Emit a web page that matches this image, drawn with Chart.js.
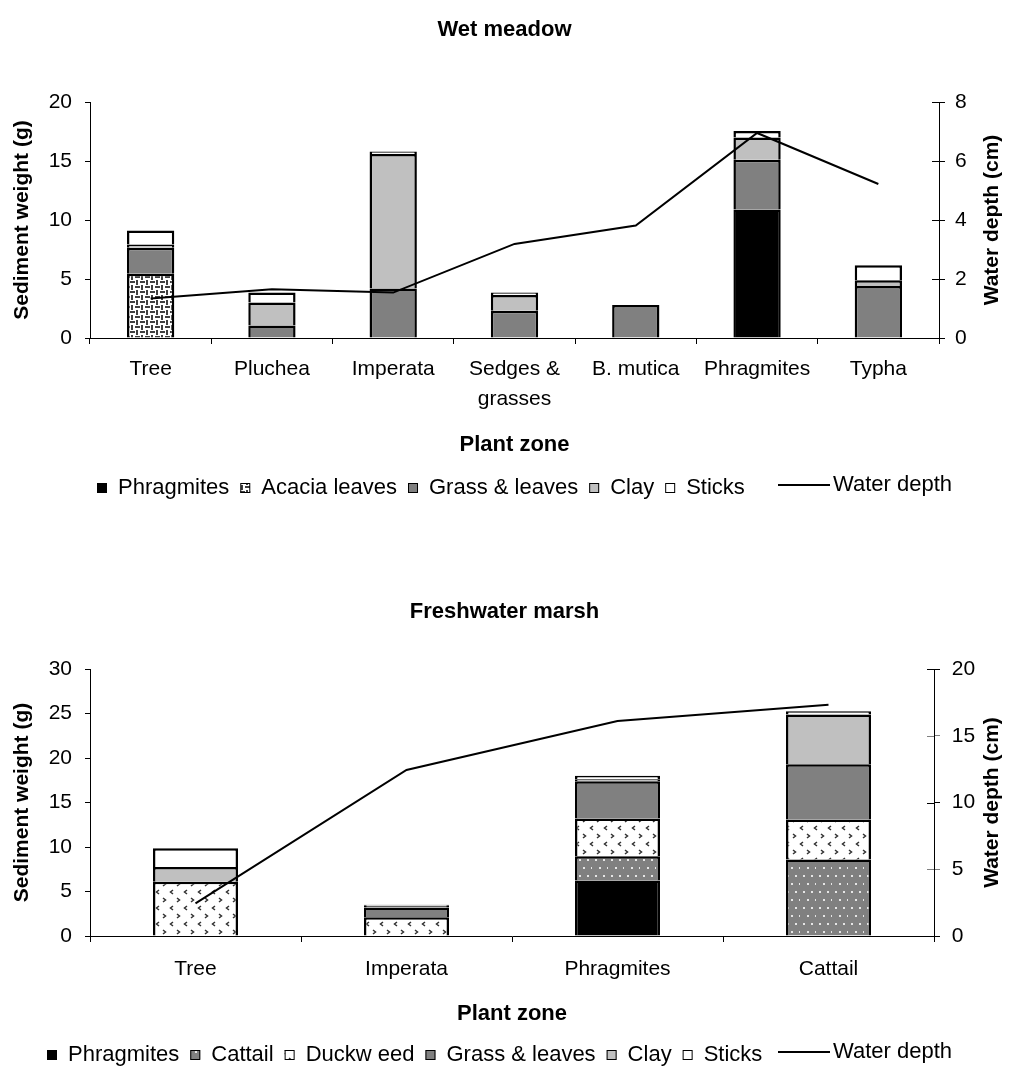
<!DOCTYPE html>
<html>
<head>
<meta charset="utf-8">
<script src="https://cdn.jsdelivr.net/npm/chart.js@4.4.1/dist/chart.umd.min.js"></script>
<style>
  html, body { margin: 0; padding: 0; background: #fff; }
  body { width: 1009px; height: 1075px; position: relative; overflow: hidden; }
  canvas { position: absolute; left: 0; }
  #wet { top: 0; }
  #marsh { top: 520px; }
</style>
</head>
<body>
<canvas id="wet" width="1009" height="520"></canvas>
<canvas id="marsh" width="1009" height="555"></canvas>
<script>
// ---- Wet meadow ----
const wetZones = ["Tree", "Pluchea", "Imperata", ["Sedges &", "grasses"], "B. mutica", "Phragmites", "Typha"];
const wetPhragmites = [0, 0, 0, 0, 0, 10.9, 0];
const wetAcacia = [5.45, 0, 0, 0, 0, 0, 0];
const wetGrass = [2.2, 1.05, 4.2, 2.3, 2.8, 4.2, 4.4];
const wetClay = [0.28, 1.95, 11.4, 1.35, 0, 1.9, 0.5];
const wetSticks = [1.18, 0.85, 0.2, 0.2, 0, 0.55, 1.27];
const wetDepth = [1.34, 1.65, 1.54, 3.19, 3.81, 6.95, 5.22];
const wetWeightTicks = [0, 20, 5];   // min, max, step
const wetDepthTicks = [0, 8, 2];

// ---- Freshwater marsh ----
const marshZones = ["Tree", "Imperata", "Phragmites", "Cattail"];
const marshPhragmites = [0, 0, 6.25, 0];
const marshCattail = [0, 0, 2.7, 8.6];
const marshDuckweed = [6.1, 2.1, 4.25, 4.5];
const marshGrass = [0, 1.1, 4.2, 6.2];
const marshClay = [1.65, 0.2, 0.2, 5.6];
const marshSticks = [2.1, 0.1, 0.4, 0.35];
const marshDepth = [2.44, 12.44, 16.1, 17.33];
const marshWeightTicks = [0, 30, 5];
const marshDepthTicks = [0, 20, 5];

const FONT = "'Liberation Sans', Arial, Helvetica, sans-serif";
Chart.defaults.font.family = FONT;
Chart.defaults.color = '#000';

function tile(w, h, paint) {
  const c = document.createElement('canvas');
  c.width = w; c.height = h;
  const g = c.getContext('2d');
  paint(g);
  return g.createPattern(c, 'repeat');
}
const weave = tile(10, 10, g => {
  g.fillStyle = '#fff'; g.fillRect(0, 0, 10, 10);
  g.fillStyle = '#404040';
  g.fillRect(0, 1, 5, 2); g.fillRect(6, 0, 2, 5);
  g.fillRect(1, 5, 2, 5); g.fillRect(5, 6, 5, 2);
});
const chevrons = tile(14, 16, g => {
  g.fillStyle = '#fff'; g.fillRect(0, 0, 14, 16);
  g.strokeStyle = '#333'; g.lineWidth = 1.5;
  g.beginPath(); g.moveTo(5, 2); g.lineTo(2.5, 4); g.lineTo(5, 6); g.stroke();
  g.beginPath(); g.moveTo(9, 10); g.lineTo(11.5, 12); g.lineTo(9, 14); g.stroke();
});
const dots = tile(16, 16, g => {
  g.fillStyle = '#808080'; g.fillRect(0, 0, 16, 16);
  g.fillStyle = '#e6e6e6';
  [[3, 3], [11, 3], [7, 11], [15, 11]].forEach(([x, y]) => g.fillRect(x, y, 2, 2));
});

function bar(label, data, fill) {
  return { type: 'bar', label, data, backgroundColor: fill, borderColor: '#000', borderWidth: 2.5, yAxisID: 'y', order: 1 };
}
function depthLine(data) {
  return { type: 'line', label: 'Water depth', data, borderColor: '#000', borderWidth: 2,
    pointRadius: 0, tension: 0, fill: false, yAxisID: 'y1', order: 0 };
}

// right axis title (reads bottom to top), crossing ticks and the legend
const extras = {
  id: 'extras',
  afterDraw(chart, args, o) {
    const ctx = chart.ctx;
    const y1 = chart.scales.y1;
    const area = chart.chartArea;
    ctx.save();
    ctx.lineWidth = 1;
    y1.ticks.forEach((t, i) => {
      const py = Math.round(y1.getPixelForTick(i)) + 0.5;
      ctx.strokeStyle = o.tickColor(i);
      ctx.beginPath(); ctx.moveTo(y1.left - 7, py); ctx.lineTo(y1.left, py); ctx.stroke();
    });
    ctx.fillStyle = '#000';
    ctx.font = 'bold 21px ' + FONT;
    ctx.textAlign = 'center';
    ctx.textBaseline = 'middle';
    ctx.translate(992, (area.top + area.bottom) / 2);
    ctx.rotate(-Math.PI / 2);
    ctx.fillText(o.rightTitle, 0, 0);
    ctx.restore();

    ctx.save();
    ctx.font = '22px ' + FONT;
    ctx.textBaseline = 'middle';
    ctx.textAlign = 'left';
    let x = o.x;
    const y = o.y;
    chart.data.datasets.forEach(ds => {
      if (ds.type === 'line') return;
      ctx.fillStyle = ds.backgroundColor;
      ctx.fillRect(x, y - 5, 10, 10);
      ctx.strokeStyle = '#000'; ctx.lineWidth = 1;
      ctx.strokeRect(x + 0.5, y - 4.5, 9, 9);
      x += 21;
      ctx.fillStyle = '#000';
      ctx.fillText(ds.label, x, y);
      x += ctx.measureText(ds.label).width + 11;
    });
    const ln = chart.data.datasets.find(d => d.type === 'line');
    const ly = Math.round(y - 3.5);
    ctx.strokeStyle = '#000'; ctx.lineWidth = 2;
    ctx.beginPath(); ctx.moveTo(778, ly); ctx.lineTo(830, ly); ctx.stroke();
    ctx.fillStyle = '#000';
    ctx.fillText(ln.label, 833, ly);
    ctx.restore();
  }
};

function build(canvas, c) {
  return new Chart(canvas, {
    data: { labels: c.labels, datasets: c.datasets },
    options: {
      responsive: false,
      animation: false,
      layout: { padding: { left: 0, right: 0, top: 0, bottom: c.padBottom } },
      datasets: { bar: { barPercentage: c.barPct, categoryPercentage: 1 } },
      plugins: {
        legend: { display: false },
        tooltip: { enabled: false },
        title: { display: true, text: c.title, color: '#000', font: { size: 22, weight: 'bold' },
          padding: { top: c.titleTop, bottom: c.titleBottom } },
        extras: { x: c.legendX, y: c.legendY, rightTitle: 'Water depth (cm)', tickColor: c.rTickColor }
      },
      scales: {
        x: {
          stacked: true,
          offset: true,
          grid: { offset: true, drawOnChartArea: false, tickLength: 6, color: '#000' },
          border: { color: '#000' },
          ticks: { color: '#000', font: { size: 21, lineHeight: 1.4 }, padding: c.xPad, maxRotation: 0, autoSkip: false },
          title: { display: true, text: 'Plant zone', color: '#000', font: { size: 22, weight: 'bold' }, padding: { top: 0, bottom: 4 } },
          afterFit: s => { s.height = c.xHeight; }
        },
        y: {
          stacked: true,
          min: c.wTicks[0], max: c.wTicks[1],
          ticks: { stepSize: c.wTicks[2], color: '#000', font: { size: 21 }, padding: 13 },
          grid: { drawOnChartArea: false, tickLength: 5, color: '#000' },
          border: { color: '#000' },
          title: { display: true, text: 'Sediment weight (g)', color: '#000', font: { size: 21, weight: 'bold' }, padding: { top: 9.4, bottom: 0 } },
          afterFit: s => { s.width = 90; }
        },
        y1: {
          position: 'right',
          min: c.dTicks[0], max: c.dTicks[1],
          ticks: { stepSize: c.dTicks[2], color: '#000', font: { size: 21 }, padding: c.rPad },
          grid: { drawOnChartArea: false, tickLength: 6, color: ctx => c.rTickColor(ctx.index) },
          border: { color: '#000' },
          afterFit: s => { s.width = c.rWidth; }
        }
      }
    },
    plugins: [extras]
  });
}

build(document.getElementById('wet'), {
  title: 'Wet meadow',
  labels: wetZones,
  datasets: [
    bar('Phragmites', wetPhragmites, '#000'),
    bar('Acacia leaves', wetAcacia, weave),
    bar('Grass & leaves', wetGrass, '#808080'),
    bar('Clay', wetClay, '#c0c0c0'),
    bar('Sticks', wetSticks, '#fff'),
    depthLine(wetDepth)
  ],
  wTicks: wetWeightTicks, dTicks: wetDepthTicks,
  barPct: 0.39,
  titleTop: 16.8, titleBottom: 58.8,
  padBottom: 57.8, xHeight: 124.2, xPad: 10.8,
  rWidth: 70, rPad: 10, rTickColor: () => '#000',
  legendX: 97, legendY: 488
});

build(document.getElementById('marsh'), {
  title: 'Freshwater marsh',
  labels: marshZones,
  datasets: [
    bar('Phragmites', marshPhragmites, '#000'),
    bar('Cattail', marshCattail, dots),
    bar('Duckw eed', marshDuckweed, chevrons),
    bar('Grass & leaves', marshGrass, '#808080'),
    bar('Clay', marshClay, '#c0c0c0'),
    bar('Sticks', marshSticks, '#fff'),
    depthLine(marshDepth)
  ],
  wTicks: marshWeightTicks, dTicks: marshDepthTicks,
  barPct: 0.403,
  titleTop: 78.8, titleBottom: 43.8,
  padBottom: 43.8, xHeight: 95.2, xPad: 12.3,
  rWidth: 75, rPad: 11.7, rTickColor: i => (i % 2 ? '#808080' : '#000'),
  legendX: 47, legendY: 535
});
</script>
</body>
</html>
